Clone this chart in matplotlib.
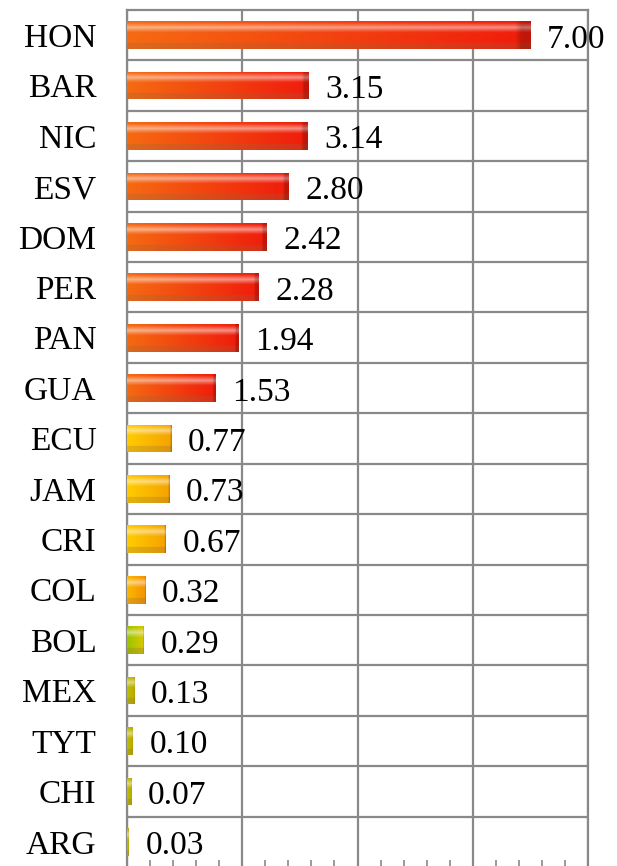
import numpy as np
import matplotlib
matplotlib.use("Agg")
import matplotlib.pyplot as plt
from matplotlib.colors import to_rgb

categories = ["HON", "BAR", "NIC", "ESV", "DOM", "PER", "PAN", "GUA", "ECU",
              "JAM", "CRI", "COL", "BOL", "MEX", "TYT", "CHI", "ARG"]
values = [7.00, 3.15, 3.14, 2.80, 2.42, 2.28, 1.94, 1.53, 0.77,
          0.73, 0.67, 0.32, 0.29, 0.13, 0.10, 0.07, 0.03]
labels = ["7.00", "3.15", "3.14", "2.80", "2.42", "2.28", "1.94", "1.53", "0.77",
          "0.73", "0.67", "0.32", "0.29", "0.13", "0.10", "0.07", "0.03"]
groups = ["red"] * 8 + ["yellow"] * 3 + ["orange", "lime", "olive", "olive", "olive", "olive"]

palette = {
    "red": ("#f56a12", "#f01c0c"),
    "yellow": ("#ffcc00", "#f5a200"),
    "orange": ("#fbb800", "#f59000"),
    "lime": ("#9cc400", "#d8c800"),
    "olive": ("#b8c000", "#c0a800"),
}

FONT = "Liberation Serif"
fs = 24
grid_c = "#898989"

fig = plt.figure(figsize=(6.17, 8.66), dpi=100)
ax = fig.add_axes([127 / 617, -1 / 866, 461 / 617, 857 / 866])

y = np.arange(len(categories))
bars = ax.barh(y, values, height=0.55, color="none", zorder=3)

def bar_image(c0, c1, nx=64, ny=32):
    c0 = np.array(to_rgb(c0)); c1 = np.array(to_rgb(c1))
    t = np.linspace(0, 1, nx)[None, :, None]
    base = c0 * (1 - t) + c1 * t
    base = np.repeat(base, ny, axis=0)
    v = np.linspace(0, 1, ny)[:, None, None]  # 0 = top
    img = base.copy()
    hl = np.clip(1 - np.abs(v - 0.22) / 0.18, 0, 1) * 0.5
    img = img + (1 - img) * hl
    dark = np.where(v > 0.78, 0.25, 0.0)
    img = img * (1 - dark) + np.array([0.55, 0.4, 0.25]) * dark
    tx = np.linspace(0, 1, nx)[None, :, None]
    edge = np.where(tx > 0.97, 0.2, 0.0)
    img = img * (1 - edge)
    return np.clip(img, 0, 1)

for rect, g in zip(bars, groups):
    x0, y0 = rect.get_x(), rect.get_y()
    w, h = rect.get_width(), rect.get_height()
    img = bar_image(*palette[g])
    im = ax.imshow(img, extent=(x0, x0 + w, y0 + h, y0), aspect="auto",
                   interpolation="bilinear", zorder=3)
    im.set_clip_path(rect)

ax.set_xlim(0, 8)
ax.set_ylim(len(categories) - 0.5, -0.5)
ax.set_aspect("auto")

ax.set_yticks(y)
ax.set_yticklabels(categories, fontfamily=FONT, fontsize=fs)
ax.set_yticks(np.arange(len(categories)) + 0.5, minor=True)
ax.tick_params(axis="y", which="both", length=0, pad=22)

ax.set_xticks([0, 2, 4, 6, 8])
ax.set_xticks(np.arange(0, 8.01, 0.4), minor=True)
ax.tick_params(axis="x", which="major", length=0, labelbottom=False)
ax.tick_params(axis="x", which="minor", direction="in", length=5, width=1.2, color=grid_c)

ax.grid(axis="x", which="major", color=grid_c, linewidth=1.6, zorder=1)
ax.grid(axis="y", which="minor", color=grid_c, linewidth=1.6, zorder=1)
ax.set_axisbelow(True)

for s in ["top", "right", "left"]:
    ax.spines[s].set_color(grid_c)
    ax.spines[s].set_linewidth(1.6)
ax.spines["bottom"].set_visible(False)

for yi, v, lab in zip(y, values, labels):
    ax.annotate(lab, (v, yi), xytext=(12, -3), textcoords="offset points",
                va="center", ha="left", fontfamily=FONT, fontsize=fs,
                color="black", zorder=5, annotation_clip=False)

fig.savefig("out.png", dpi=100)
